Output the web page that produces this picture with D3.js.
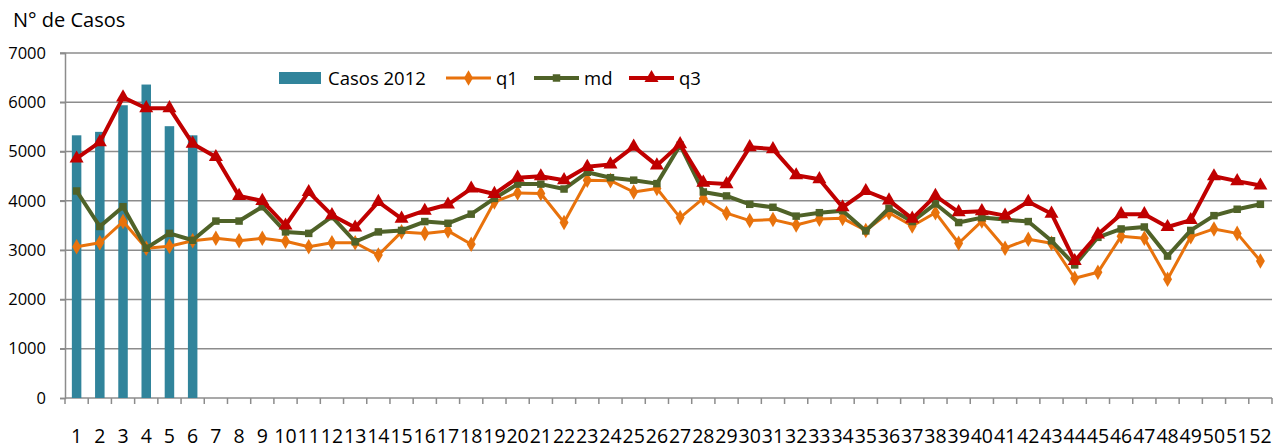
<!DOCTYPE html>
<html>
<head>
<meta charset="utf-8">
<script src="https://d3js.org/d3.v7.min.js"></script>
<style>
  body { margin: 0; background: #fff; }
  text { font-family: "Open Sans", sans-serif; fill: #000; }
  .grid line { stroke: #8c8c8c; stroke-width: 1.5px; }
  .axis path, .axis line { stroke: #8c8c8c; stroke-width: 1.5px; }
</style>
</head>
<body>
<svg width="1281" height="448"></svg>
<script>
// weeks 1..52
var weeks = d3.range(1, 53);
var casos2012 = [5330, 5400, 5940, 6360, 5515, 5330];
var q1 = [3070, 3150, 3580, 3040, 3080, 3190, 3240, 3190, 3240, 3180,
          3070, 3150, 3150, 2900, 3370, 3340, 3390, 3120, 3980, 4160,
          4150, 3560, 4420, 4410, 4180, 4250, 3660, 4050, 3750, 3600,
          3620, 3510, 3630, 3645, 3400, 3760, 3490, 3760, 3140, 3590,
          3040, 3220, 3140, 2430, 2550, 3280, 3240, 2410, 3270, 3430,
          3340, 2780];
var md = [4200, 3480, 3880, 3040, 3340, 3200, 3590, 3590, 3880, 3370,
          3340, 3680, 3170, 3370, 3400, 3580, 3545, 3730, 4050, 4340,
          4340, 4240, 4580, 4470, 4420, 4350, 5130, 4180, 4100, 3930,
          3870, 3690, 3760, 3800, 3390, 3850, 3580, 3940, 3560, 3660,
          3620, 3580, 3190, 2700, 3260, 3430, 3470, 2880, 3400, 3700,
          3830, 3930];
var q3 = [4860, 5190, 6100, 5880, 5880, 5160, 4890, 4100, 4000, 3500,
          4180, 3710, 3460, 3980, 3640, 3800, 3925, 4250, 4140, 4470,
          4500, 4420, 4690, 4740, 5100, 4720, 5150, 4370, 4340, 5090,
          5050, 4520, 4440, 3870, 4200, 4010, 3640, 4100, 3770, 3790,
          3700, 3980, 3740, 2780, 3320, 3730, 3730, 3470, 3610, 4500,
          4400, 4310];
var yTicks = [0, 1000, 2000, 3000, 4000, 5000, 6000, 7000];

var svg = d3.select("svg");
var pLeft = 65, pRight = 1272, pTop = 53, pBottom = 398;

var x = d3.scaleBand().domain(weeks).range([pLeft, pRight]);
var y = d3.scaleLinear().domain([0, 7000]).range([pBottom, pTop]);
var cx = function(d, i) { return x(weeks[i]) + x.bandwidth() / 2; };

// gridlines
svg.append("g").attr("class", "grid")
  .selectAll("line").data(yTicks.slice(1)).enter().append("line")
  .attr("x1", pLeft - 5).attr("x2", pRight)
  .attr("y1", y).attr("y2", y);

// y axis
var yAxis = svg.append("g").attr("class", "axis")
  .attr("transform", "translate(" + pLeft + ",0)")
  .call(d3.axisLeft(y).tickValues(yTicks).tickSize(5).tickPadding(14).tickFormat(d3.format("d")));
yAxis.selectAll("text").style("font-size", "16.5px");

// x axis with ticks between categories
var xAxis = svg.append("g").attr("class", "axis")
  .attr("transform", "translate(0," + pBottom + ")");
xAxis.append("line").attr("x1", pLeft).attr("x2", pRight);
xAxis.selectAll(".tk").data(weeks.concat([53])).enter().append("line")
  .attr("class", "tk")
  .attr("x1", function(d) { return d <= 52 ? x(d) : pRight; })
  .attr("x2", function(d) { return d <= 52 ? x(d) : pRight; })
  .attr("y1", 0).attr("y2", 6);
xAxis.selectAll("text").data(weeks).enter().append("text")
  .attr("x", function(d) { return x(d) + x.bandwidth() / 2; })
  .attr("y", 45)
  .attr("text-anchor", "middle")
  .style("font-size", "19.5px")
  .text(function(d) { return d; });

// bars
var bw = 9.5;
svg.append("g").selectAll("rect").data(casos2012).enter().append("rect")
  .attr("x", function(d, i) { return cx(d, i) - bw / 2; })
  .attr("y", y)
  .attr("width", bw)
  .attr("height", function(d) { return pBottom - y(d); })
  .attr("fill", "#31849b");

var line = d3.line().x(cx).y(function(d) { return y(d); });

var series = [
  { name: "q1", data: q1, color: "#e8720c", width: 3, sym: d3.symbolDiamond, size: 70 },
  { name: "md", data: md, color: "#4f6228", width: 4, sym: d3.symbolSquare, size: 56 },
  { name: "q3", data: q3, color: "#c00000", width: 4, sym: d3.symbolTriangle, size: 85 }
];

series.forEach(function(s) {
  svg.append("path").datum(s.data)
    .attr("d", line)
    .attr("fill", "none")
    .attr("stroke", s.color)
    .attr("stroke-width", s.width)
    .attr("stroke-linejoin", "round");
  svg.append("g").selectAll("path").data(s.data).enter().append("path")
    .attr("transform", function(d, i) { return "translate(" + cx(d, i) + "," + y(d) + ")"; })
    .attr("d", d3.symbol().type(s.sym).size(s.size))
    .attr("fill", s.color);
});

// title
svg.append("text").attr("x", 13).attr("y", 27)
  .style("font-size", "20px").text("N° de Casos");

// legend
var lg = svg.append("g");
lg.append("rect").attr("x", 279).attr("y", 72).attr("width", 42).attr("height", 12).attr("fill", "#31849b");
lg.append("text").attr("x", 328).attr("y", 85).style("font-size", "18.5px").text("Casos 2012");
var lpos = [446, 534, 629];
series.forEach(function(s, i) {
  var x0 = lpos[i];
  lg.append("line").attr("x1", x0).attr("x2", x0 + 45).attr("y1", 78).attr("y2", 78)
    .attr("stroke", s.color).attr("stroke-width", s.width);
  lg.append("path").attr("transform", "translate(" + (x0 + 22.5) + ",78)")
    .attr("d", d3.symbol().type(s.sym).size(s.size)).attr("fill", s.color);
  lg.append("text").attr("x", x0 + 50).attr("y", 85).style("font-size", "18.5px").text(s.name);
});
</script>
</body>
</html>
